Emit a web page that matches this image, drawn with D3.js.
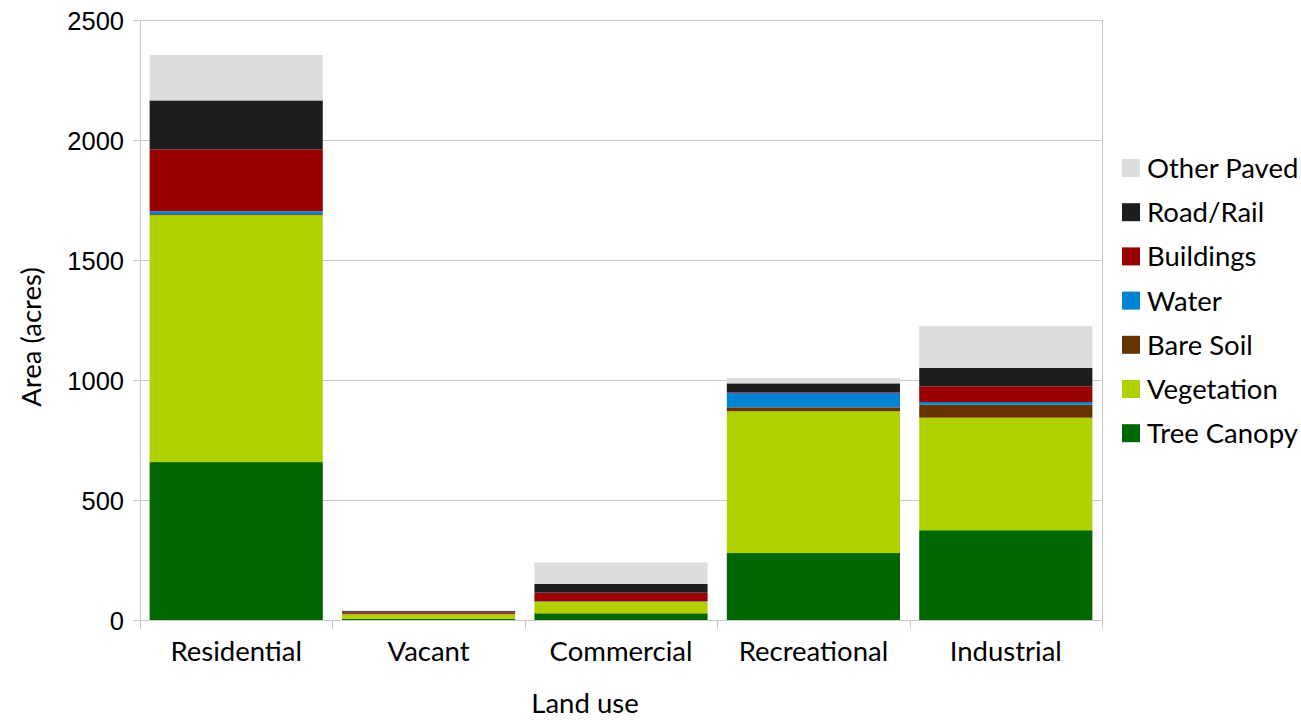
<!DOCTYPE html>
<meta charset="utf-8">
<style>
 body { margin: 0; background: #fff; }
 .tick text.ylab { font-family: "Liberation Sans", Arial, sans-serif; font-size: 25.5px; fill: #000; }
 .xlab { font-family: Lato, "Open Sans", sans-serif; font-size: 27.5px; fill: #000; }
 .title { font-family: Lato, "Open Sans", sans-serif; font-size: 27.5px; fill: #000; }
 .legend text { font-family: Lato, "Open Sans", sans-serif; font-size: 27.5px; fill: #000; }
</style>
<svg width="1301" height="720"></svg>
<script src="https://d3js.org/d3.v7.min.js"></script>
<script>

 // categories and series (acres)
 var landUses = ["Residential", "Vacant", "Commercial", "Recreational", "Industrial"];
 var seriesNames = ["Tree Canopy", "Vegetation", "Bare Soil", "Water", "Buildings", "Road/Rail", "Other Paved"];
 var seriesColors = ["#006600", "#b0d000", "#663300", "#0084d1", "#990000", "#1e1e1e", "#dddddd"];

 var treeCanopy = [658, 4, 28, 279, 374];
 var vegetation = [1029, 20, 48, 591, 469];
 var bareSoil   = [4, 2, 1, 16, 54];
 var water      = [12, 0, 1, 61, 11];
 var buildings  = [258, 6, 36, 3, 66];
 var roadRail   = [204, 5, 36, 36, 76];
 var otherPaved = [189, 3, 90, 22, 175];

 var yTicks = [0, 500, 1000, 1500, 2000, 2500];

 var seriesValues = [treeCanopy, vegetation, bareSoil, water, buildings, roadRail, otherPaved];

 var rows = landUses.map(function(c, i) {
   var r = { land: c };
   seriesNames.forEach(function(s, j) { r[s] = seriesValues[j][i]; });
   return r;
 });

 var svg = d3.select("svg"),
     margin = { left: 140, right: 199, top: 20, bottom: 100 },
     width = 1301 - margin.left - margin.right,
     height = 720 - margin.top - margin.bottom;

 var g = svg.append("g").attr("transform", "translate(" + margin.left + "," + margin.top + ")");

 var x = d3.scaleBand().domain(landUses).range([0, width]).paddingInner(0.1).paddingOuter(0.05);
 var y = d3.scaleLinear().domain([0, 2500]).range([height, 0]);

 // grid
 g.append("g").selectAll("line")
   .data(yTicks)
   .enter().append("line")
   .attr("x1", -7).attr("x2", width)
   .attr("y1", function(d) { return y(d) + 0.5; })
   .attr("y2", function(d) { return y(d) + 0.5; })
   .attr("stroke", "#c8c8c8");

 g.append("line").attr("x1", 0.5).attr("x2", 0.5).attr("y1", 0).attr("y2", height + 9).attr("stroke", "#c8c8c8");
 g.append("line").attr("x1", width + 0.5).attr("x2", width + 0.5).attr("y1", 0).attr("y2", height + 9).attr("stroke", "#c8c8c8");

 // category separators under axis
 var step = x.step();
 landUses.forEach(function(c, i) {
   if (i == 0) return;
   var xx = Math.round(x(c) - step * x.paddingInner() / 2) + 0.5;
   g.append("line").attr("x1", xx).attr("x2", xx).attr("y1", height).attr("y2", height + 9).attr("stroke", "#c8c8c8");
 });

 var stack = d3.stack().keys(seriesNames)(rows);

 g.append("g").selectAll("g")
   .data(stack)
   .enter().append("g")
   .attr("fill", function(d, i) { return seriesColors[i]; })
   .selectAll("rect")
   .data(function(d) { return d; })
   .enter().append("rect")
   .attr("x", function(d) { return x(d.data.land); })
   .attr("width", x.bandwidth())
   .attr("y", function(d) { return y(d[1]); })
   .attr("height", function(d) { return y(d[0]) - y(d[1]); });

 // y axis labels
 var yAxis = d3.axisLeft(y).tickValues(yTicks).tickFormat(d3.format("d")).tickSize(0).tickPadding(16);
 var ya = g.append("g").call(yAxis);
 ya.select(".domain").remove();
 ya.selectAll("text").attr("class", "ylab").attr("dy", "0.36em");

 // x labels
 g.append("g").selectAll("text")
   .data(landUses)
   .enter().append("text")
   .attr("class", "xlab")
   .attr("x", function(d) { return x(d) + x.bandwidth() / 2; })
   .attr("y", height + 41)
   .attr("text-anchor", "middle")
   .text(function(d) { return d; });

 svg.append("text").attr("class", "title")
   .attr("x", 585).attr("y", 713)
   .attr("text-anchor", "middle")
   .text("Land use");

 svg.append("text").attr("class", "title")
   .attr("transform", "translate(41,337) rotate(-90)")
   .attr("text-anchor", "middle")
   .text("Area (acres)");

 // legend, top item is last series
 var legend = svg.append("g").attr("class", "legend")
   .selectAll("g")
   .data(seriesNames.slice().reverse())
   .enter().append("g")
   .attr("transform", function(d, i) { return "translate(1122," + (159 + i * 44.2) + ")"; });

 legend.append("rect")
   .attr("width", 18).attr("height", 18)
   .attr("fill", function(d) { return seriesColors[seriesNames.indexOf(d)]; });

 legend.append("text")
   .attr("x", 25).attr("y", 19)
   .text(function(d) { return d; });
</script>
